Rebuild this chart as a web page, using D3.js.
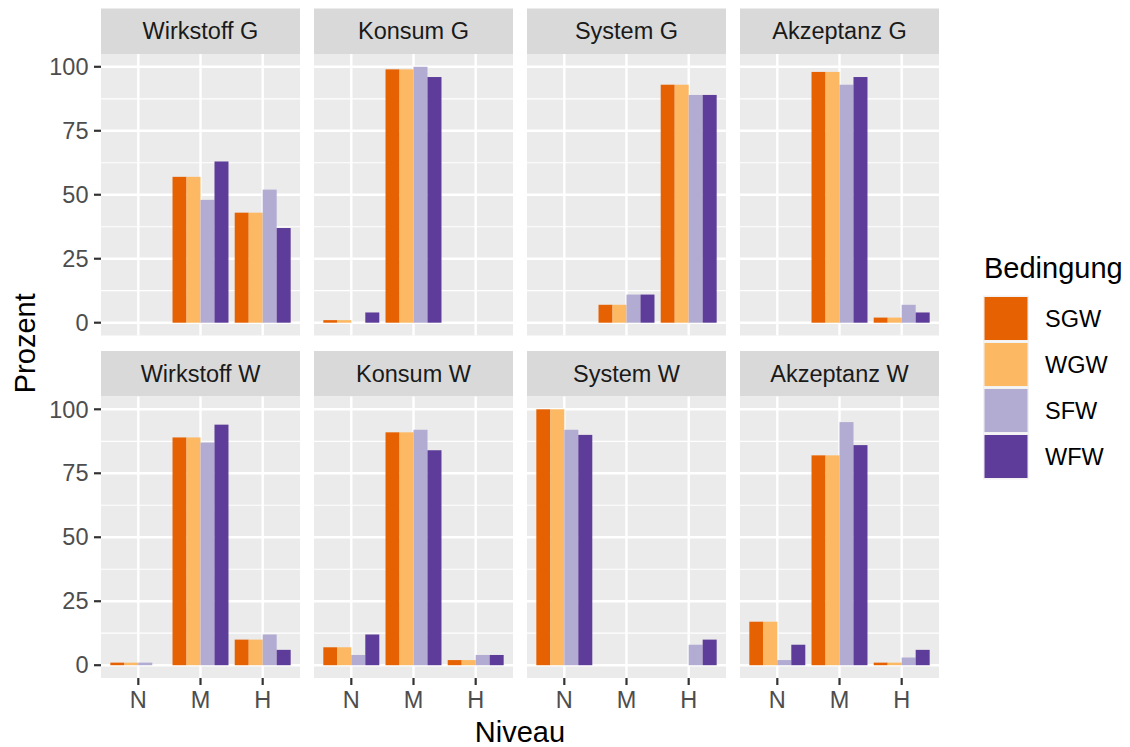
<!DOCTYPE html>
<html>
<head>
<meta charset="utf-8">
<script src="https://cdn.jsdelivr.net/npm/d3@7"></script>
<style>
  body { margin: 0; background: #fff; }
  svg text { font-family: "Liberation Sans", Arial, Helvetica, sans-serif; }
</style>
</head>
<body>
<div id="chart"></div>
<script>
// facets in facet_wrap order (2 rows x 4 cols)
var facets = ["Wirkstoff G", "Konsum G", "System G", "Akzeptanz G",
              "Wirkstoff W", "Konsum W", "System W", "Akzeptanz W"];
var niveaus = ["N", "M", "H"];
var conditions = ["SGW", "WGW", "SFW", "WFW"];
var colors = ["#E66101", "#FDB863", "#B2ABD2", "#5E3C99"];
var yTicks = [0, 25, 50, 75, 100];

// percent per facet, per niveau (N, M, H)
var sgw = [[0, 57, 43], [1, 99, 0], [0, 7, 93], [0, 98, 2],
           [1, 89, 10], [7, 91, 2], [100, 0, 0], [17, 82, 1]];
var wgw = [[0, 57, 43], [1, 99, 0], [0, 7, 93], [0, 98, 2],
           [1, 89, 10], [7, 91, 2], [100, 0, 0], [17, 82, 1]];
var sfw = [[0, 48, 52], [0, 100, 0], [0, 11, 89], [0, 93, 7],
           [1, 87, 12], [4, 92, 4], [92, 0, 8], [2, 95, 3]];
var wfw = [[0, 63, 37], [4, 96, 0], [0, 11, 89], [0, 96, 4],
           [0, 94, 6], [12, 84, 4], [90, 0, 10], [8, 86, 6]];
var series = [sgw, wgw, sfw, wfw];

var width = 1130, height = 747;
var svg = d3.select("#chart").append("svg")
    .attr("width", width)
    .attr("height", height);

var smallFont = 23.5, titleFont = 29;

// layout
var panelLeft = 101, panelW = 199, colGap = 14;
var stripH = 45.5, panelH = 281.5;
var rowTops = [8.5, 351];

var x = d3.scalePoint().domain(niveaus).range([0, panelW]).padding(0.6);
var step = x.step();
var xSub = d3.scaleBand().domain(conditions).range([-0.45 * step, 0.45 * step]);
var y = d3.scaleLinear().domain([-5, 105]).range([panelH, 0]);
var color = d3.scaleOrdinal().domain(conditions).range(colors);

var minorTicks = [12.5, 37.5, 62.5, 87.5];

facets.forEach(function(name, fi) {
    var row = Math.floor(fi / 4), col = fi % 4;
    var px = panelLeft + col * (panelW + colGap);
    var top = rowTops[row];

    var strip = svg.append("g").attr("transform", "translate(" + px + "," + top + ")");
    strip.append("rect")
        .attr("width", panelW).attr("height", stripH)
        .attr("fill", "#D9D9D9");
    strip.append("text")
        .attr("x", panelW / 2).attr("y", stripH / 2)
        .attr("dy", "0.35em")
        .attr("text-anchor", "middle")
        .attr("font-size", smallFont)
        .attr("fill", "#1A1A1A")
        .text(name);

    var g = svg.append("g").attr("transform", "translate(" + px + "," + (top + stripH) + ")");
    g.append("rect")
        .attr("width", panelW).attr("height", panelH)
        .attr("fill", "#EBEBEB");

    g.selectAll(".minor").data(minorTicks).enter().append("line")
        .attr("x1", 0).attr("x2", panelW)
        .attr("y1", function(d) { return y(d); })
        .attr("y2", function(d) { return y(d); })
        .attr("stroke", "#fff").attr("stroke-width", 1.2);
    g.selectAll(".major").data(yTicks).enter().append("line")
        .attr("x1", 0).attr("x2", panelW)
        .attr("y1", function(d) { return y(d); })
        .attr("y2", function(d) { return y(d); })
        .attr("stroke", "#fff").attr("stroke-width", 2.4);
    g.selectAll(".vmajor").data(niveaus).enter().append("line")
        .attr("y1", 0).attr("y2", panelH)
        .attr("x1", function(d) { return x(d); })
        .attr("x2", function(d) { return x(d); })
        .attr("stroke", "#fff").attr("stroke-width", 2.4);

    // bars
    var bars = [];
    conditions.forEach(function(c, ci) {
        niveaus.forEach(function(n, ni) {
            bars.push({cond: c, niveau: n, value: series[ci][fi][ni]});
        });
    });
    g.selectAll(".bar").data(bars.filter(function(d) { return d.value > 0; }))
        .enter().append("rect")
        .attr("x", function(d) { return x(d.niveau) + xSub(d.cond); })
        .attr("width", xSub.bandwidth())
        .attr("y", function(d) { return y(d.value); })
        .attr("height", function(d) { return y(0) - y(d.value); })
        .attr("fill", function(d) { return color(d.cond); });

    // y axis on first column
    if (col === 0) {
        var ya = g.append("g");
        yTicks.forEach(function(t) {
            ya.append("line")
                .attr("x1", -7).attr("x2", 0)
                .attr("y1", y(t)).attr("y2", y(t))
                .attr("stroke", "#333").attr("stroke-width", 2.2);
            ya.append("text")
                .attr("x", -12.5).attr("y", y(t))
                .attr("dy", "0.35em")
                .attr("text-anchor", "end")
                .attr("font-size", smallFont)
                .attr("fill", "#4D4D4D")
                .text(t);
        });
    }

    // x axis on bottom row
    if (row === 1) {
        var xa = g.append("g").attr("transform", "translate(0," + panelH + ")");
        niveaus.forEach(function(n) {
            xa.append("line")
                .attr("x1", x(n)).attr("x2", x(n))
                .attr("y1", 0).attr("y2", 7)
                .attr("stroke", "#333").attr("stroke-width", 2.2);
            xa.append("text")
                .attr("x", x(n)).attr("y", 29.5)
                .attr("text-anchor", "middle")
                .attr("font-size", smallFont)
                .attr("fill", "#4D4D4D")
                .text(n);
        });
    }
});

// axis titles
var plotRight = panelLeft + 4 * panelW + 3 * colGap;
svg.append("text")
    .attr("x", (panelLeft + plotRight) / 2).attr("y", 742)
    .attr("text-anchor", "middle")
    .attr("font-size", titleFont)
    .attr("fill", "#000")
    .text("Niveau");
svg.append("text")
    .attr("transform", "translate(35," + ((rowTops[0] + rowTops[1] + stripH + panelH) / 2) + ") rotate(-90)")
    .attr("text-anchor", "middle")
    .attr("font-size", titleFont)
    .attr("fill", "#000")
    .text("Prozent");

// legend
var legend = svg.append("g").attr("transform", "translate(983,0)");
legend.append("text")
    .attr("x", 1).attr("y", 278)
    .attr("font-size", titleFont)
    .attr("fill", "#000")
    .text("Bedingung");
var keyH = 46, keyTop = 295.5;
conditions.forEach(function(c, i) {
    var ky = keyTop + i * keyH;
    legend.append("rect")
        .attr("x", 0).attr("y", ky)
        .attr("width", keyH).attr("height", keyH)
        .attr("fill", "#F2F2F2");
    legend.append("rect")
        .attr("x", 1.5).attr("y", ky + 1.5)
        .attr("width", keyH - 3).attr("height", keyH - 3)
        .attr("fill", color(c));
    legend.append("text")
        .attr("x", 62).attr("y", ky + keyH / 2)
        .attr("dy", "0.35em")
        .attr("font-size", smallFont)
        .attr("fill", "#000")
        .text(c);
});
</script>
</body>
</html>
